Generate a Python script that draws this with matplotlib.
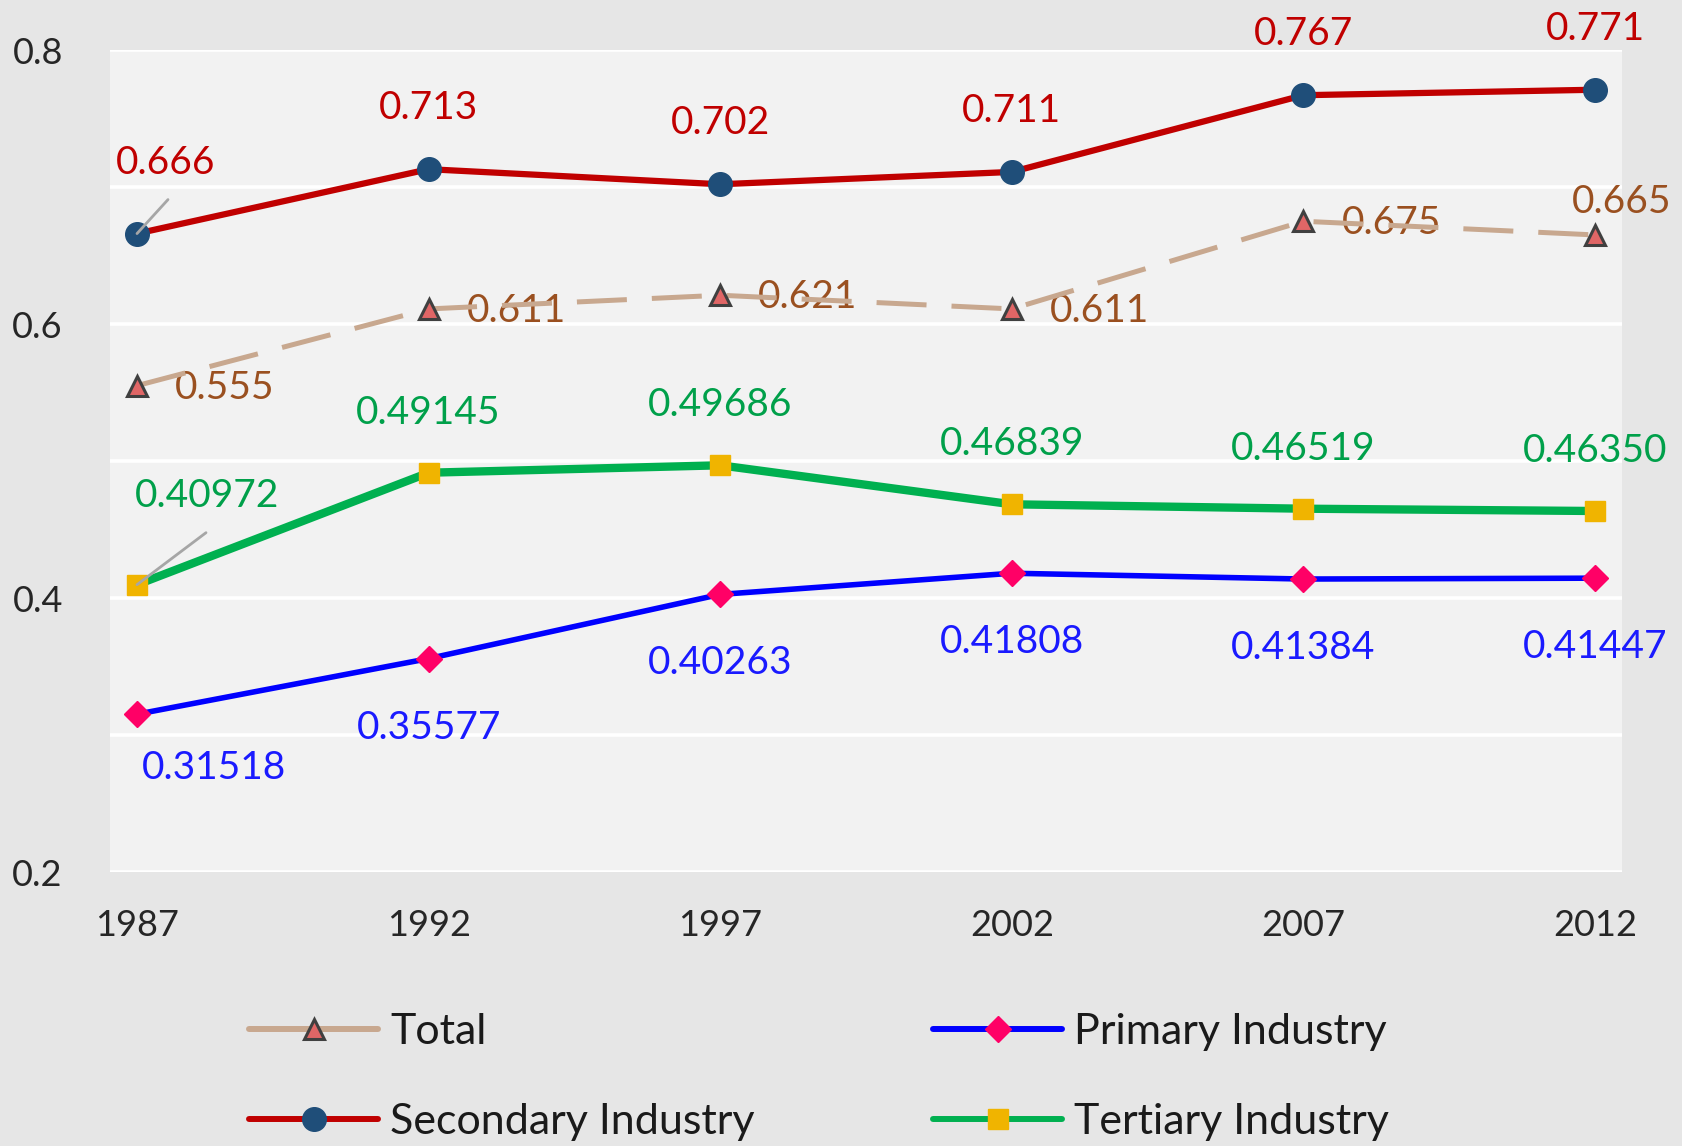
#!/usr/bin/env python
"""Industry index by year, four series with data labels."""

import matplotlib
matplotlib.use("Agg")
import matplotlib.pyplot as plt
from matplotlib.lines import Line2D
from matplotlib.ticker import MultipleLocator

years = ["1987", "1992", "1997", "2002", "2007", "2012"]
total = [0.555, 0.611, 0.621, 0.611, 0.675, 0.665]
secondary = [0.666, 0.713, 0.702, 0.711, 0.767, 0.771]
primary = [0.31518, 0.35577, 0.40263, 0.41808, 0.41384, 0.41447]
tertiary = [0.40972, 0.49145, 0.49686, 0.46839, 0.46519, 0.46350]

plt.rcParams["font.family"] = ["Lato", "DejaVu Sans"]

W, H = 1682, 1146
fig = plt.figure(figsize=(W / 100, H / 100), dpi=100)
fig.patch.set_facecolor("#e6e6e6")
ax = fig.add_axes([110 / W, 1 - 872 / H, 1512 / W, 822 / H])
ax.set_facecolor("#f2f2f2")

x = list(range(len(years)))

styles = {
    "Total": dict(color="#c8a88f", lw=3.6, marker="^", ms=15, mfc="#e06666",
                  mec="#404040", mew=2.2),
    "Secondary Industry": dict(color="#c00000", lw=4.5, marker="o", ms=17,
                               mfc="#1f4e79", mec="#1f4e79"),
    "Primary Industry": dict(color="#0000ff", lw=4.0, marker="D", ms=13,
                             mfc="#ff0066", mec="#ff0066"),
    "Tertiary Industry": dict(color="#00b050", lw=6.0, marker="s", ms=15,
                              mfc="#f0b400", mec="#f0b400"),
}

ax.plot(x, total, dashes=(10, 5), zorder=4, **styles["Total"])
ax.plot(x, secondary, zorder=5, **styles["Secondary Industry"])
ax.plot(x, primary, zorder=5, **styles["Primary Industry"])
ax.plot(x, tertiary, zorder=5, **styles["Tertiary Industry"])

lab = dict(fontsize=28, textcoords="offset pixels", va="center")

# data labels
for i, v in enumerate(secondary):
    off = (29, 71) if i == 0 else (0, 61)
    ax.annotate(f"{v:.3f}", (i, v), xytext=off, ha="center", color="#c00000",
                zorder=6, **lab)
for i, v in enumerate(total):
    if i == len(total) - 1:
        ax.annotate(f"{v:.3f}", (i, v), xytext=(27, 33), ha="center",
                    color="#9a5020", zorder=3, **lab)
    else:
        ax.annotate(f"{v:.3f}", (i, v), xytext=(38, -2), ha="left",
                    color="#9a5020", zorder=3, **lab)
for i, v in enumerate(tertiary):
    off = (70, 89) if i == 0 else (0, 60)
    ax.annotate(f"{v:.5f}", (i, v), xytext=off, ha="center", color="#00a04a",
                zorder=6, **lab)
for i, v in enumerate(primary):
    off = (77, -54) if i == 0 else (0, -69)
    ax.annotate(f"{v:.5f}", (i, v), xytext=off, ha="center", color="#1a1aff",
                zorder=6, **lab)

# leader lines for the shifted 1987 labels
lead = dict(arrowstyle="-", color="#a6a6a6", lw=2, shrinkA=0, shrinkB=0)
ax.annotate("", (0, secondary[0]), xytext=(31, 34), textcoords="offset pixels",
            arrowprops=lead, zorder=6)
ax.annotate("", (0, tertiary[0]), xytext=(69, 52), textcoords="offset pixels",
            arrowprops=lead, zorder=6)

ax.set_xlim(-0.0926, 5.0926)
ax.set_ylim(0.2, 0.8)
ax.set_xticks(x)
ax.set_xticklabels(years)
ax.yaxis.set_major_locator(MultipleLocator(0.2))
ax.yaxis.set_minor_locator(MultipleLocator(0.1))
ax.set_yticklabels([f"{t:.1f}" for t in ax.get_yticks()])
ax.grid(axis="y", which="both", color="white", lw=2.6, zorder=0)
ax.set_axisbelow(True)
ax.tick_params(axis="both", which="both", length=0, labelsize=26,
               labelcolor="#262626")
ax.tick_params(axis="y", pad=34)
ax.tick_params(axis="x", pad=27)
for s in ax.spines.values():
    s.set_visible(False)

# legend keys are solid lines in the reference
def key(name):
    st = dict(styles[name])
    st["lw"] = 4.3
    return Line2D([], [], solid_capstyle="round", **st)

leg_kw = dict(loc="upper left", frameon=False, fontsize=31, borderpad=0,
              borderaxespad=0, handlelength=3.0, handletextpad=0.28,
              labelspacing=1.2, labelcolor="#1a1a1a")
names1 = ["Total", "Secondary Industry"]
names2 = ["Primary Industry", "Tertiary Industry"]
fig.legend([key(n) for n in names1], names1,
           bbox_to_anchor=(249 / W, 1 - 1013 / H), **leg_kw)
fig.legend([key(n) for n in names2], names2,
           bbox_to_anchor=(933 / W, 1 - 1013 / H), **leg_kw)

fig.savefig("out.png", dpi=100, facecolor=fig.get_facecolor())
